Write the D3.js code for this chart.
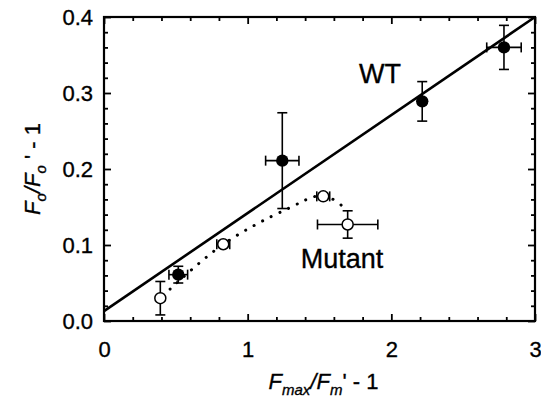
<!DOCTYPE html>
<html><head><meta charset="utf-8">
<script src="https://cdn.jsdelivr.net/npm/d3@7"></script>
<style>body{margin:0;background:#fff}svg{display:block}text{font-family:"Liberation Sans",Arial,sans-serif;fill:#000;stroke:#000;stroke-width:0.35px}</style>
</head><body>
<svg id="c" width="541" height="405"></svg>
<script>
// WT (filled circles)
const wtX   = [0.517, 1.241, 2.215, 2.784];
const wtY   = [0.061, 0.211, 0.289, 0.360];
const wtXe  = [0.065, 0.116, 0.000, 0.120];
const wtYe  = [0.011, 0.063, 0.026, 0.029];
// Mutant (open circles)
const mutX  = [0.392, 0.830, 1.526, 1.696];
const mutY  = [0.030, 0.101, 0.164, 0.127];
const mutXe = [0.000, 0.045, 0.045, 0.210];
const mutYe = [0.022, 0.004, 0.004, 0.018];
// WT linear fit endpoints
const fitX = [0, 3];
const fitY = [0.013, 0.400];
// Mutant dotted curve guide
const curveX = [0.46, 0.83, 1.27, 1.53, 1.69];
const curveY = [0.042, 0.101, 0.147, 0.165, 0.146];
const xTicks = [0, 1, 2, 3];
const yTicks = [0.0, 0.1, 0.2, 0.3, 0.4];

const svg = d3.select("#c");
const L = 104, R = 535, T = 17, B = 321;
const x = d3.scaleLinear().domain([0, 3]).range([L, R]);
const y = d3.scaleLinear().domain([0, 0.4]).range([B, T]);

const xMinor = d3.range(0, 3.0001, 0.2).filter(v => Math.abs(v - Math.round(v)) > 1e-6);
const yMinor = d3.range(0, 0.4001, 0.02).filter(v => Math.abs(v*10 - Math.round(v*10)) > 1e-6);

function axis(gen, tr, vals, size, fmt) {
  const g = svg.append("g").attr("transform", tr)
    .call(gen.tickValues(vals).tickSizeInner(size).tickSizeOuter(0).tickFormat(fmt));
  g.select(".domain").remove();
  g.selectAll("line").attr("stroke", "#000").attr("stroke-width", 1.8);
  return g;
}
const gb = axis(d3.axisBottom(x), `translate(0,${B})`, xTicks, -7, d3.format("d"));
gb.selectAll("text").attr("y", 20).attr("dy", "0.71em").style("font-size", "22px");
axis(d3.axisBottom(x), `translate(0,${B})`, xMinor, -4, () => "");
axis(d3.axisTop(x), `translate(0,${T})`, xTicks, -7, () => "");
axis(d3.axisTop(x), `translate(0,${T})`, xMinor, -4, () => "");
const gl = axis(d3.axisLeft(y), `translate(${L},0)`, yTicks, -7, d3.format(".1f"));
gl.selectAll("text").attr("x", -11).attr("dy", "0.36em").style("font-size", "22px");
axis(d3.axisLeft(y), `translate(${L},0)`, yMinor, -4, () => "");
axis(d3.axisRight(y), `translate(${R},0)`, yTicks, -7, () => "");
axis(d3.axisRight(y), `translate(${R},0)`, yMinor, -4, () => "");

svg.append("rect").attr("x", L).attr("y", T).attr("width", R - L).attr("height", B - T)
  .attr("fill", "none").attr("stroke", "#000").attr("stroke-width", 2.2);

const plot = svg.append("g");
plot.append("line")
  .attr("x1", x(fitX[0])).attr("y1", y(fitY[0]))
  .attr("x2", x(fitX[1])).attr("y2", y(fitY[1]))
  .attr("stroke", "#000").attr("stroke-width", 2.6);

const cpts = curveX.map((v, i) => [x(v), y(curveY[i])]);
plot.append("path").attr("d", d3.line().curve(d3.curveCatmullRom.alpha(0.5))(cpts))
  .attr("fill", "none").attr("stroke", "#000").attr("stroke-width", 3)
  .attr("stroke-linecap", "round").attr("stroke-dasharray", "0.1 9.5");

function errBars(xs, ys, xe, ye) {
  const cap = 5;
  xs.forEach((xv, i) => {
    const cx = x(xv), cy = y(ys[i]);
    if (ye[i] > 0) {
      const y1 = y(ys[i] + ye[i]), y2 = y(ys[i] - ye[i]);
      plot.append("line").attr("x1", cx).attr("x2", cx).attr("y1", y1).attr("y2", y2);
      plot.append("line").attr("x1", cx - cap).attr("x2", cx + cap).attr("y1", y1).attr("y2", y1);
      plot.append("line").attr("x1", cx - cap).attr("x2", cx + cap).attr("y1", y2).attr("y2", y2);
    }
    if (xe[i] > 0) {
      const x1 = x(xv - xe[i]), x2 = x(xv + xe[i]);
      plot.append("line").attr("x1", x1).attr("x2", x2).attr("y1", cy).attr("y2", cy);
      plot.append("line").attr("x1", x1).attr("x2", x1).attr("y1", cy - cap).attr("y2", cy + cap);
      plot.append("line").attr("x1", x2).attr("x2", x2).attr("y1", cy - cap).attr("y2", cy + cap);
    }
  });
}
errBars(wtX, wtY, wtXe, wtYe);
errBars(mutX, mutY, mutXe, mutYe);
plot.selectAll("line").filter(function(){ return !this.getAttribute("stroke"); })
  .attr("stroke", "#000").attr("stroke-width", 1.6);

plot.selectAll(".wt").data(wtX).enter().append("circle")
  .attr("cx", d => x(d)).attr("cy", (d, i) => y(wtY[i])).attr("r", 6.2).attr("fill", "#000");
plot.selectAll(".mut").data(mutX).enter().append("circle")
  .attr("cx", d => x(d)).attr("cy", (d, i) => y(mutY[i])).attr("r", 5.5)
  .attr("fill", "#fff").attr("stroke", "#000").attr("stroke-width", 1.5);

svg.append("text").attr("x", 380).attr("y", 83).attr("text-anchor", "middle")
  .style("font-size", "27px").text("WT");
svg.append("text").attr("x", 342).attr("y", 268).attr("text-anchor", "middle")
  .style("font-size", "27px").text("Mutant");

const xt = svg.append("text").attr("x", x(1.5) + 4).attr("y", 389).attr("text-anchor", "middle")
  .style("font-size", "22px");
xt.append("tspan").style("font-style", "italic").text("F");
xt.append("tspan").style("font-style", "italic").style("font-size", "15px").attr("dy", 6).text("max");
xt.append("tspan").style("font-style", "italic").attr("dy", -6).text("/F");
xt.append("tspan").style("font-style", "italic").style("font-size", "15px").attr("dy", 6).text("m");
xt.append("tspan").attr("dy", -6).text("' - 1");

const yt = svg.append("text").attr("transform", `translate(40,${(T + B) / 2}) rotate(-90)`)
  .attr("text-anchor", "middle").style("font-size", "22px");
yt.append("tspan").style("font-style", "italic").text("F");
yt.append("tspan").style("font-style", "italic").style("font-size", "15px").attr("dy", 6).text("o");
yt.append("tspan").style("font-style", "italic").attr("dy", -6).text("/F");
yt.append("tspan").style("font-style", "italic").style("font-size", "15px").attr("dy", 6).text("o");
yt.append("tspan").attr("dy", -6).text(" ' - 1");
</script>
</body></html>
